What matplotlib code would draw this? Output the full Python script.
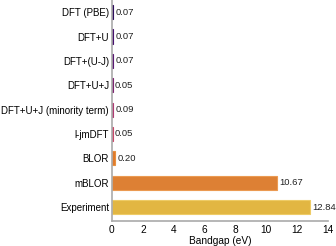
import numpy as np
import matplotlib
matplotlib.use('Agg')
from matplotlib import pyplot as plt

plt.rcParams['font.family'] = ['Liberation Sans', 'DejaVu Sans']

methods = ['DFT (PBE)', 'DFT+U', 'DFT+(U-J)', 'DFT+U+J', 'DFT+U+J (minority term)',
           'l-jmDFT', 'BLOR', 'mBLOR', 'Experiment']
bandgap = [0.07, 0.07, 0.07, 0.05, 0.09, 0.05, 0.20, 10.67, 12.84]
colors = ['#2d0c5c', '#46106e', '#5a1773', '#7d2470', '#b03a72',
          '#c9486a', '#e07a2c', '#dd8034', '#e2b642']
edges = ['#2d0c5c', '#46106e', '#5a1773', '#7d2470', '#b03a72',
         '#c9486a', '#e8913f', '#eb9a52', '#eecb66']

fig = plt.figure(figsize=(3.36, 2.46), dpi=100)
ax = fig.add_axes([0.333, 0.102, 0.643, 0.898])

y = np.arange(len(methods))
ax.barh(y, bandgap, height=0.58, color=colors, edgecolor=edges, linewidth=0.8)
for yi, v in zip(y, bandgap):
    ax.text(v + 0.15, yi, '%.2f' % v, va='center', ha='left', fontsize=6.8, color='#222222')

ax.set_yticks(y)
ax.set_yticklabels(methods, fontsize=7)
ax.set_ylim(len(methods) - 1 + 0.57, -0.5)
ax.set_xlim(0, 14)
ax.set_xticks(range(0, 15, 2))
ax.tick_params(axis='x', labelsize=7.3, length=0, pad=3)
ax.tick_params(axis='y', length=0, pad=2)
ax.set_xlabel('Bandgap (eV)', fontsize=7.3, labelpad=1)

for s in ['top', 'right']:
    ax.spines[s].set_visible(False)
for s in ['left', 'bottom']:
    ax.spines[s].set_color('#aaaaaa')
    ax.spines[s].set_linewidth(1.2)

plt.savefig('out.png', dpi=100)
